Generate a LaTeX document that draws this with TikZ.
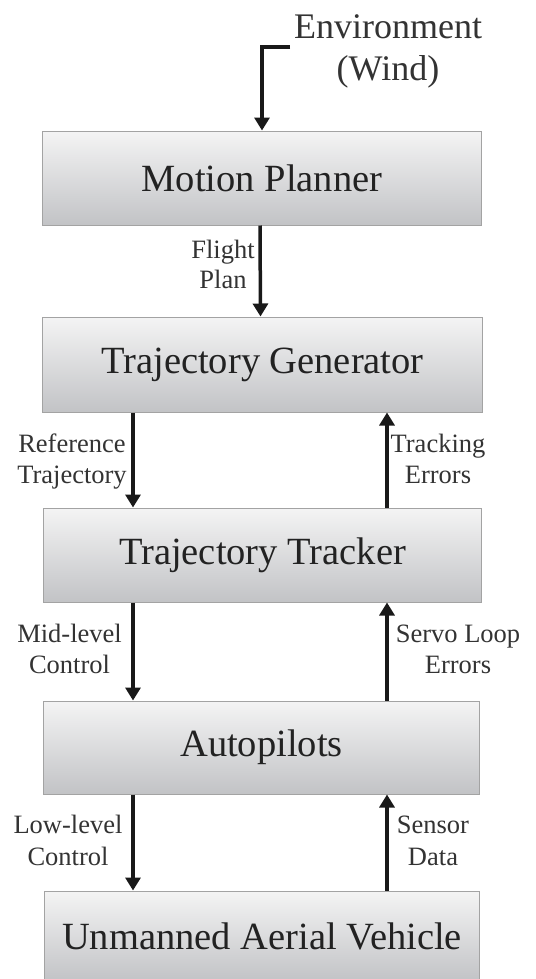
\documentclass[tikz,border=0pt]{standalone}
\usepackage{fontspec}
\setmainfont{Liberation Serif}
\usetikzlibrary{arrows.meta}
\definecolor{boxtop}{HTML}{F4F4F4}
\definecolor{boxbot}{HTML}{C2C3C6}
\definecolor{boxline}{HTML}{A3A3A3}
\definecolor{txt}{HTML}{222222}
\definecolor{lbltxt}{HTML}{333333}
\begin{document}
\begin{tikzpicture}[x=1bp,y=-1bp,
  block/.style={draw=boxline,line width=1bp,top color=boxtop,bottom color=boxbot,
    minimum width=438bp,minimum height=94bp,inner sep=0pt,
    font=\fontsize{38.5bp}{44bp}\selectfont,text=txt},
  flow/.style={line width=3.5bp,draw=black!90,-{Triangle[width=15bp,length=13bp]}},
  lbl/.style={font=\fontsize{26.5bp}{31bp}\selectfont,text=lbltxt,align=center,anchor=base},
  envlbl/.style={font=\fontsize{36bp}{42bp}\selectfont,text=lbltxt,align=center,anchor=base}]
\useasboundingbox (0,0) rectangle (536,979);
\fill[white] (0,0) rectangle (536,979);

\node[block] (mp) at (262,178) {Motion Planner};
\node[block,minimum width=439bp,minimum height=95bp] (tg) at (262.5,364.5) {Trajectory Generator};
\node[block,minimum width=437bp] (tt) at (262.5,555) {Trajectory Tracker};
\node[block,minimum width=435bp,minimum height=93bp] (ap) at (261.5,747.5) {Autopilots};
\node[block,minimum width=434bp,minimum height=90bp] (uav) at (262,936) {Unmanned Aerial Vehicle};

\coordinate (envc) at (290,47);
\coordinate (L) at (133,0);
\coordinate (R) at (387,0);

\draw[flow] (envc) -| (mp.north);
\draw[flow] ([xshift=-2bp]mp.south) -- ([xshift=-2bp]tg.north);
\draw[flow] (tg.south -| L) -- (tt.north -| L);
\draw[flow] (tt.north -| R) -- (tg.south -| R);
\draw[flow] (tt.south -| L) -- (ap.north -| L);
\draw[flow] (ap.north -| R) -- (tt.south -| R);
\draw[flow] (ap.south -| L) -- (uav.north -| L);
\draw[flow] (uav.north -| R) -- (ap.south -| R);

\node[envlbl] (env) at (388,80) {Environment\\(Wind)};
\node[lbl,font=\fontsize{26.5bp}{30bp}\selectfont] (fp) at (223,288) {Flight\\Plan};
\node[lbl] (rt) at (72,483) {Reference\\Trajectory};
\node[lbl] (te) at (438,483) {Tracking\\Errors};
\node[lbl] (mc) at (69.5,673) {Mid-level\\Control};
\node[lbl] (se) at (458,673) {Servo Loop\\Errors};
\node[lbl,font=\fontsize{26.5bp}{32bp}\selectfont] (lc) at (68,865) {Low-level\\Control};
\node[lbl,font=\fontsize{26.5bp}{32bp}\selectfont] (sd) at (433,865) {Sensor\\Data};
\end{tikzpicture}
\end{document}
